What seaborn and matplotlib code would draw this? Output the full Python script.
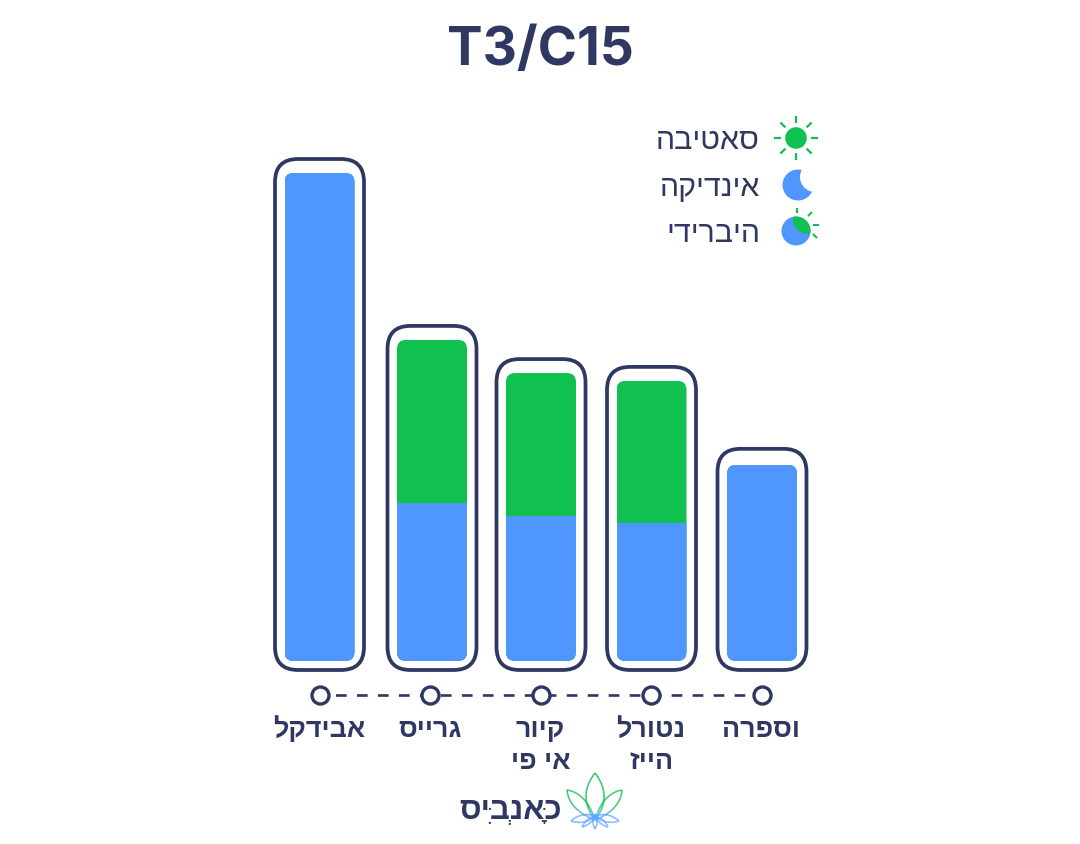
import unicodedata
import numpy as np
import pandas as pd
import seaborn as sns
import matplotlib
matplotlib.use("Agg")
import matplotlib.pyplot as plt
from matplotlib.patches import FancyBboxPatch, Circle
from matplotlib.collections import LineCollection
from matplotlib.colors import to_rgb
from matplotlib.transforms import IdentityTransform

title = "T3/C15"
categories = ["אבידקל", "גרייס", "קיור\nאי פי", "נטורל\nהייז", "וספרה"]
indica = [100.0, 32.4, 29.7, 28.3, 40.2]
sativa = [0.0, 33.4, 29.3, 29.1, 0.0]
legend_labels = ["סאטיבה", "אינדיקה", "היברידי"]
brand = "כָּאנְבִּיס"

NAVY = "#2f3763"
BLUE = "#5096ff"
GREEN = "#10c14f"
W, H = 1080, 844
FONT = "Liberation Sans"


def visual(s, marks_first=False):
    """Hebrew logical order to visual order."""
    lines = []
    for line in s.split("\n"):
        clusters = []
        for ch in line:
            if unicodedata.combining(ch) and clusters:
                clusters[-1] = ch + clusters[-1] if marks_first else clusters[-1] + ch
            else:
                clusters.append(ch)
        lines.append("".join(reversed(clusters)))
    return "\n".join(lines)


sns.set_theme(style="white")
plt.rcParams["font.family"] = [FONT, "DejaVu Sans"]

fig = plt.figure(figsize=(W / 100, H / 100), dpi=100, facecolor="white")
ov = fig.add_axes([0, 0, 1, 1], zorder=5)
ov.set_xlim(0, W)
ov.set_ylim(H, 0)
ov.axis("off")
ov.patch.set_alpha(0)

step = 110.5
left = 319.5 - step / 2
ax = fig.add_axes([left / W, (H - 661) / H, 5 * step / W, 488 / H])

df = pd.DataFrame({"name": [visual(c) for c in categories],
                   "indica": indica, "sativa": sativa})
df["total"] = df["indica"] + df["sativa"]
sns.barplot(data=df, x="name", y="total", color=GREEN, saturation=1,
            width=70 / step, ax=ax, zorder=2, linewidth=0, edgecolor="none")
n_top = len(ax.patches)
sns.barplot(data=df, x="name", y="indica", color=BLUE, saturation=1,
            width=70 / step, ax=ax, zorder=3, linewidth=0, edgecolor="none")
ax.set_xlim(-0.5, 4.5)
ax.set_ylim(0, 100)
ax.set_xlabel("")
ax.set_ylabel("")
ax.set_yticks([])
ax.patch.set_alpha(0)
sns.despine(ax=ax, left=True, bottom=True)
ax.tick_params(axis="x", length=0, pad=40)
for lab in ax.get_xticklabels():
    lab.set_fontsize(19.4)
    lab.set_color(NAVY)
    lab.set_fontweight("bold")
    lab.set_linespacing(1.3)
    lab.set_verticalalignment("top")

fig.canvas.draw()
nudge_px = [0, 2, 0.5, 0.5, 0.5]
frame_up = [14, 14, 14, 14, 16]
bars = list(ax.patches)
for i in range(n_top):
    for b in (bars[i], bars[n_top + i]):
        b.set_x(b.get_x() + nudge_px[i] / step)
    tb = bars[i]
    (x0, y0) = ax.transData.transform((tb.get_x(), 0))
    (x1, y1) = ax.transData.transform((tb.get_x() + tb.get_width(), tb.get_height()))
    r = 9
    clip = FancyBboxPatch((x0 + r, y0 + r), x1 - x0 - 2 * r, y1 - y0 - 2 * r,
                          boxstyle=f"round,pad={r},rounding_size={r}",
                          transform=IdentityTransform())
    tb.set_clip_path(clip)
    bars[n_top + i].set_clip_path(clip)
    cx = (x0 + x1) / 2
    hw, down, rr = 44.5, 9, 23
    fr = FancyBboxPatch((cx - hw + rr, y0 - down + rr), 2 * hw - 2 * rr,
                        (y1 - y0) + frame_up[i] + down - 2 * rr,
                        boxstyle=f"round,pad={rr},rounding_size={rr}",
                        transform=IdentityTransform(), fc="none", ec=NAVY,
                        lw=2.7, clip_on=False, zorder=4)
    ax.add_patch(fr)

axis_y = -34 / 4.88
axis_line, = ax.plot([0, 4], [axis_y, axis_y], color=NAVY, lw=1.9,
                     clip_on=False, zorder=1)
axis_line.set_linestyle((2.08, (4.05, 3.9)))
ax.scatter(range(5), [axis_y] * 5, s=150, facecolor="white", edgecolor=NAVY,
           linewidth=2.4, clip_on=False, zorder=6)

ov.text(540, 51, title, ha="center", va="center", fontsize=38.3, fontweight="bold",
        color=NAVY, family="Inter")

for lab, y in zip(legend_labels, [141, 188, 234]):
    ov.text(760, y, visual(lab), ha="right", va="center", fontsize=21.8, color=NAVY)

# sun
ov.add_patch(Circle((796, 138), 10.8, fc=GREEN, ec="none"))
for a in np.deg2rad(range(0, 360, 45)):
    ov.plot([796 + 15 * np.cos(a), 796 + 22 * np.cos(a)],
            [138 + 15 * np.sin(a), 138 + 22 * np.sin(a)],
            color=GREEN, lw=1.6, solid_capstyle="butt")
# moon
ov.add_patch(Circle((798, 185), 15.5, fc=BLUE, ec="none"))
ov.add_patch(Circle((815, 177), 15, fc="white", ec="none"))
# hybrid
ov.add_patch(Circle((796, 231), 14.5, fc=BLUE, ec="none"))
circ = Circle((796, 231), 14.5, transform=ov.transData)
hy = ov.add_patch(Circle((808, 219), 15, fc=GREEN, ec="none"))
hy.set_clip_path(circ)
for (xa, ya), (xb, yb) in [((797, 208), (797, 213)), ((808, 216), (812, 212)),
                           ((813, 225), (819, 225)), ((813, 234), (817, 238))]:
    ov.plot([xa, xb], [ya, yb], color=GREEN, lw=1.5, solid_capstyle="butt")

# brand
ov.text(562, 811, visual(brand, marks_first=True), ha="right", va="center",
        fontsize=22.3, fontweight="bold", color=NAVY)


def leaf(base, tip, bulge, taper=0.5):
    base, tip = np.array(base, float), np.array(tip, float)
    d = tip - base
    n = np.array([-d[1], d[0]]) / np.hypot(*d)
    u = np.linspace(0, 1, 60)[:, None]
    out = []
    for sgn in (1, -1):
        c = base + d * taper + n * bulge * sgn
        out.append((1 - u) ** 2 * base + 2 * u * (1 - u) * c + u ** 2 * tip)
    return np.vstack([out[0], out[1][::-1]])


g, b = np.array(to_rgb(GREEN)), np.array(to_rgb("#62a6ff"))
for base, tip, bulge, tp in [((595, 820), (595, 773), 18, .5),
                             ((595, 820), (567, 790), 12, .62),
                             ((595, 820), (622, 790), 12, .62),
                             ((595, 816), (571, 821), 7, .5),
                             ((595, 816), (619, 821), 7, .5),
                             ((595, 816), (582, 827), 4, .5),
                             ((595, 816), (608, 827), 4, .5),
                             ((595, 814), (595, 829), 4, .5)]:
    pts = leaf(base, tip, bulge, tp)
    segs = np.stack([pts[:-1], pts[1:]], axis=1)
    f = np.clip((segs[:, :, 1].mean(axis=1) - 806) / 10, 0, 1)[:, None]
    ov.add_collection(LineCollection(segs, colors=g * (1 - f) + b * f, linewidths=1.1))

fig.savefig("out.png", dpi=100, facecolor="white")
